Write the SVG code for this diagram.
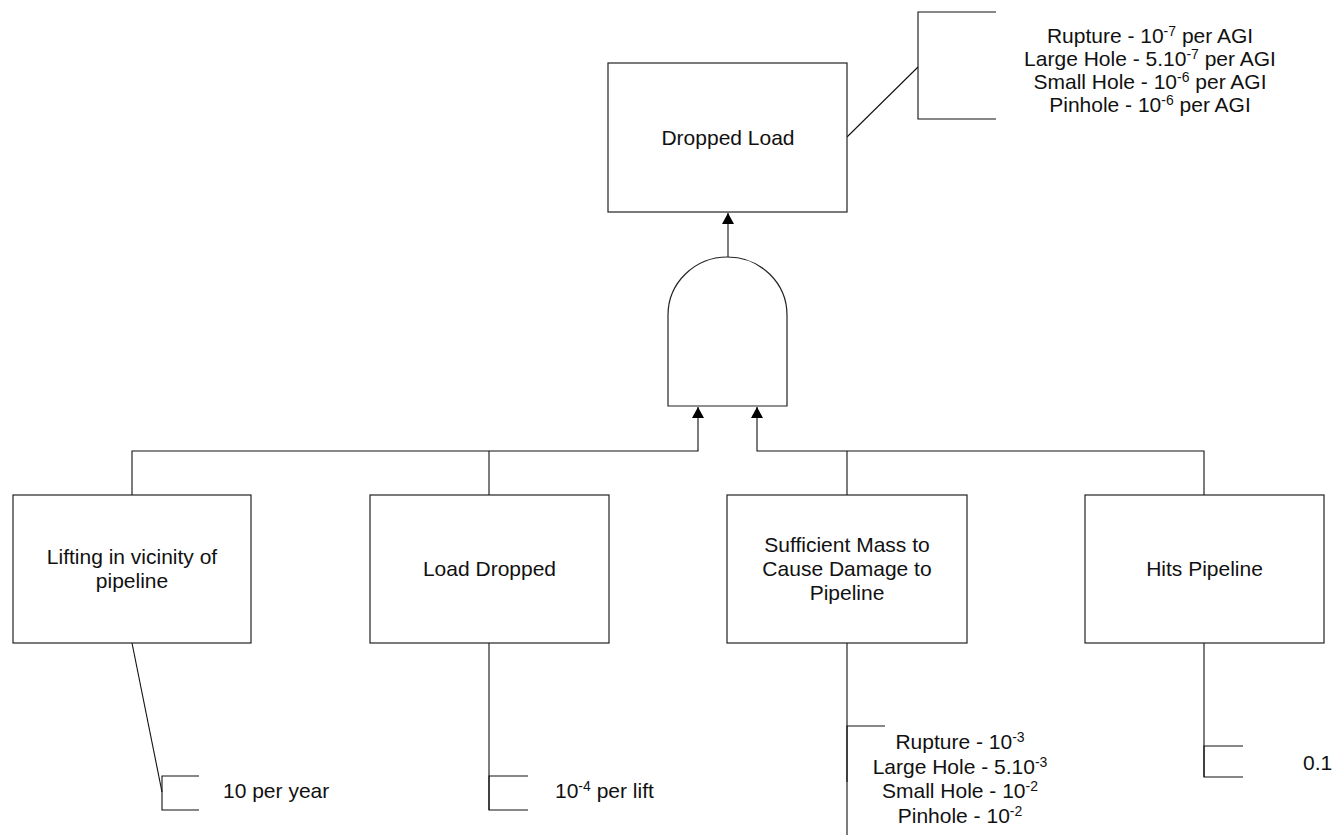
<svg xmlns="http://www.w3.org/2000/svg" width="1338" height="835" viewBox="0 0 1338 835">
  <style>
    .box { fill: #fff; stroke: #222; stroke-width: 1.2; }
    .ln { fill: none; stroke: #111; stroke-width: 1.1; }
    .lbl { font-family: "Liberation Sans", Arial, sans-serif; font-size: 21px; fill: #111; }
    .mid { text-anchor: middle; }
    .sup { font-size: 14px; }
  </style>
  <defs>
    <marker id="arrow" markerWidth="12" markerHeight="12" refX="11" refY="6" orient="auto" markerUnits="userSpaceOnUse">
      <path d="M0,0 L11,6 L0,12 Z" fill="#000"/>
    </marker>
  </defs>
  <rect width="1338" height="835" fill="#fff"/>

  <!-- connectors -->
  <g id="connectors">
    <!-- gate output to top event -->
    <line class="ln" x1="728" y1="257" x2="728" y2="213" marker-end="url(#arrow)"/>
    <!-- gate inputs -->
    <polyline class="ln" points="132,495 132,451 698,451 698,407" marker-end="url(#arrow)"/>
    <line class="ln" x1="489" y1="451" x2="489" y2="495"/>
    <polyline class="ln" points="1204,495 1204,451 757,451 757,407" marker-end="url(#arrow)"/>
    <line class="ln" x1="847" y1="451" x2="847" y2="495"/>
    <!-- frequency annotations -->
    <line class="ln" x1="847" y1="137" x2="918" y2="67"/>
    <polyline class="ln" points="996,12 918,12 918,119 996,119"/>
    <line class="ln" x1="132" y1="643" x2="162" y2="792"/>
    <polyline class="ln" points="199,776 162,776 162,810 199,810"/>
    <line class="ln" x1="489" y1="643" x2="489" y2="810"/>
    <polyline class="ln" points="528,776 489,776 489,810 528,810"/>
    <line class="ln" x1="847" y1="643" x2="847" y2="835"/>
    <polyline class="ln" points="885,726 847,726 847,782"/>
    <line class="ln" x1="1204" y1="643" x2="1204" y2="777"/>
    <polyline class="ln" points="1243,746 1204,746 1204,777 1243,777"/>
  </g>

  <!-- top event -->
  <g id="dropped-load">
    <rect class="box" x="608" y="63" width="239" height="149"/>
    <text class="lbl mid" x="728" y="145">Dropped Load</text>
  </g>

  <!-- AND gate -->
  <g id="and-gate">
    <path class="box" d="M668,406 L668,315 A59.5,58 0 0 1 787,315 L787,406 Z"/>
  </g>

  <!-- basic events -->
  <g id="lifting">
    <rect class="box" x="13" y="495" width="238" height="148"/>
    <text class="lbl mid" x="132" y="564">Lifting in vicinity of</text>
    <text class="lbl mid" x="132" y="588">pipeline</text>
  </g>
  <g id="load-dropped">
    <rect class="box" x="370" y="495" width="239" height="148"/>
    <text class="lbl mid" x="489.5" y="576">Load Dropped</text>
  </g>
  <g id="sufficient-mass">
    <rect class="box" x="727" y="495" width="240" height="148"/>
    <text class="lbl mid" x="847" y="552">Sufficient Mass to</text>
    <text class="lbl mid" x="847" y="576">Cause Damage to</text>
    <text class="lbl mid" x="847" y="600">Pipeline</text>
  </g>
  <g id="hits-pipeline">
    <rect class="box" x="1085" y="495" width="239" height="148"/>
    <text class="lbl mid" x="1204.5" y="576">Hits Pipeline</text>
  </g>

  <!-- frequency labels -->
  <g id="top-frequencies">
    <text class="lbl mid" x="1150" y="43">Rupture - 10<tspan class="sup" dy="-7">-7</tspan><tspan dy="7"> per AGI</tspan></text>
    <text class="lbl mid" x="1150" y="66">Large Hole - 5.10<tspan class="sup" dy="-7">-7</tspan><tspan dy="7"> per AGI</tspan></text>
    <text class="lbl mid" x="1150" y="89">Small Hole - 10<tspan class="sup" dy="-7">-6</tspan><tspan dy="7"> per AGI</tspan></text>
    <text class="lbl mid" x="1150" y="112">Pinhole - 10<tspan class="sup" dy="-7">-6</tspan><tspan dy="7"> per AGI</tspan></text>
  </g>
  <g id="lifting-frequency">
    <text class="lbl" x="223" y="798">10 per year</text>
  </g>
  <g id="drop-frequency">
    <text class="lbl" x="555" y="798">10<tspan class="sup" dy="-7">-4</tspan><tspan dy="7"> per lift</tspan></text>
  </g>
  <g id="mass-frequencies">
    <text class="lbl mid" x="960" y="749">Rupture - 10<tspan class="sup" dy="-7">-3</tspan></text>
    <text class="lbl mid" x="960" y="774">Large Hole - 5.10<tspan class="sup" dy="-7">-3</tspan></text>
    <text class="lbl mid" x="960" y="798">Small Hole - 10<tspan class="sup" dy="-7">-2</tspan></text>
    <text class="lbl mid" x="960" y="823">Pinhole - 10<tspan class="sup" dy="-7">-2</tspan></text>
  </g>
  <g id="hit-frequency">
    <text class="lbl" x="1303" y="770">0.1</text>
  </g>
</svg>
